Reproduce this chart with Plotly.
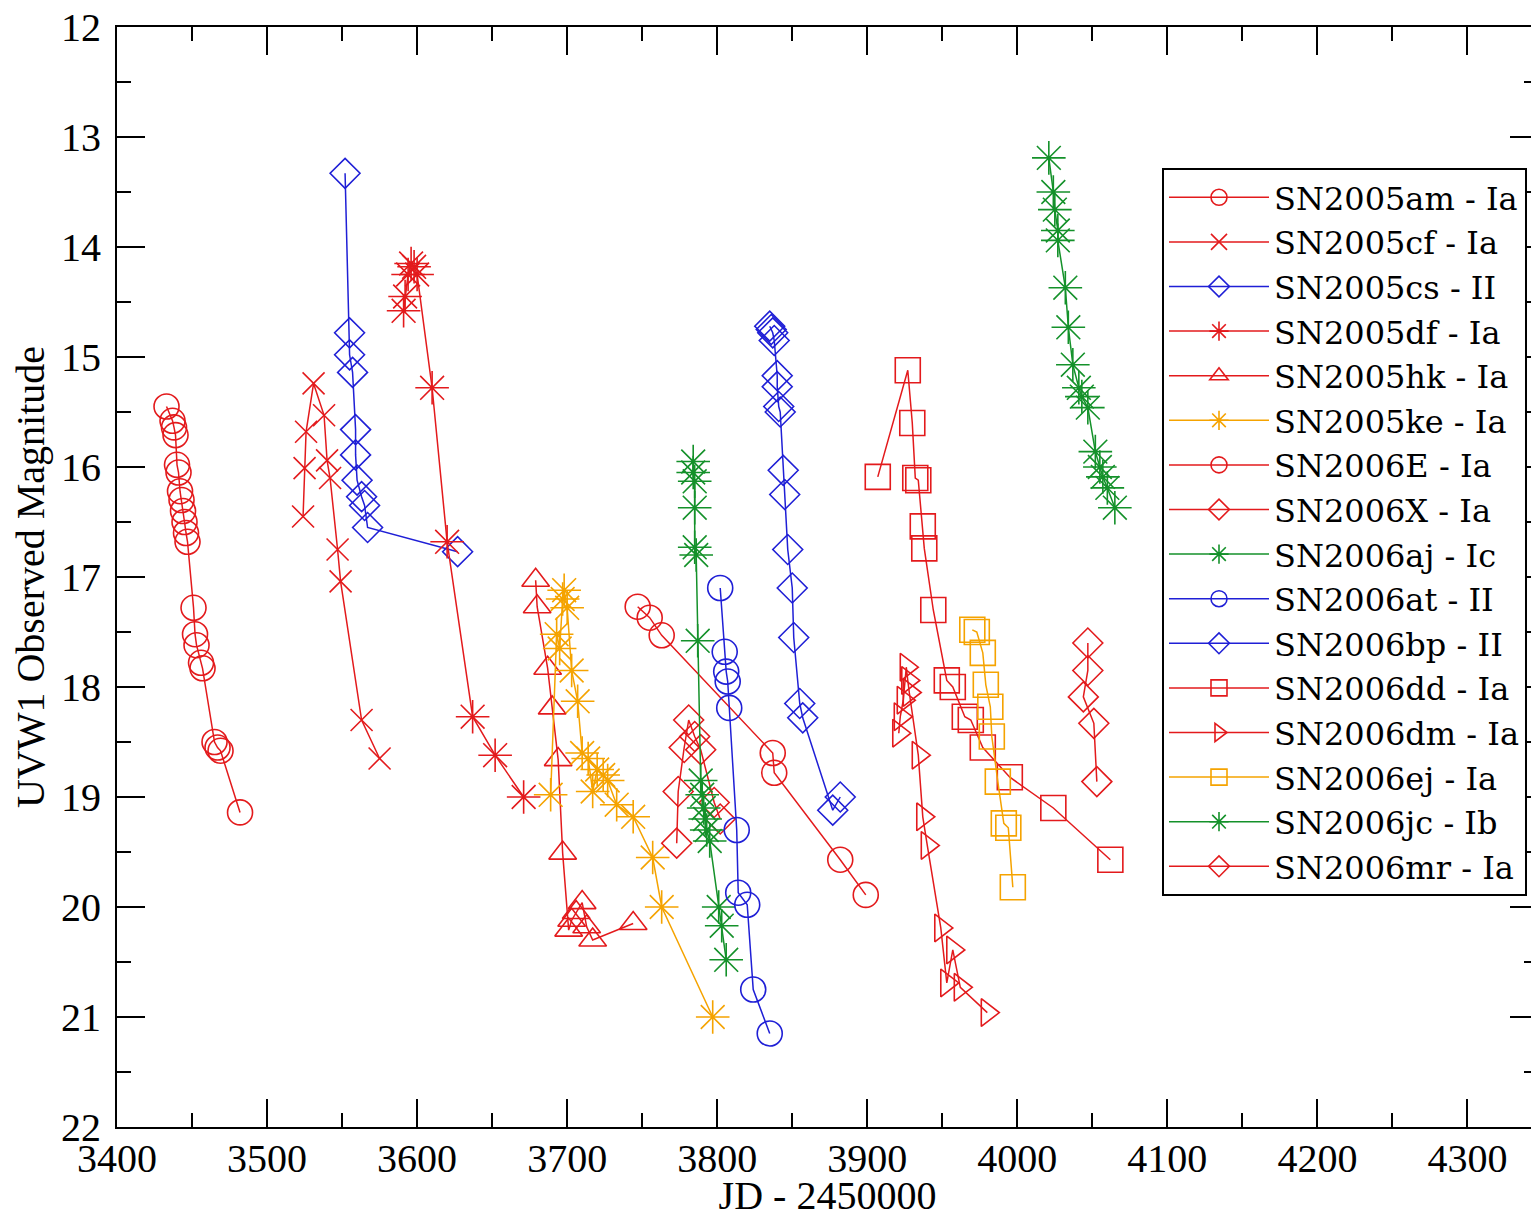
import plotly.graph_objects as go

# ---------------- data ----------------
sn2005am_x = [3433, 3437, 3438, 3439, 3440, 3441, 3442, 3443, 3444, 3445, 3446, 3447,
              3451, 3452, 3453, 3456, 3457, 3465, 3467, 3469, 3482]
sn2005am_y = [15.45, 15.58, 15.64, 15.71, 15.98, 16.05, 16.22, 16.30, 16.40, 16.50, 16.60, 16.68,
              17.28, 17.52, 17.62, 17.78, 17.83, 18.50, 18.55, 18.58, 19.14]

sn2005cf_x = [3524, 3525, 3526, 3531, 3538, 3540, 3542, 3547, 3549, 3563, 3575]
sn2005cf_y = [16.45, 16.01, 15.68, 15.24, 15.53, 15.94, 16.10, 16.75, 17.04, 18.30, 18.65]

sn2005cs_x = [3552, 3555, 3555, 3557, 3559, 3559, 3560, 3563, 3565, 3567, 3627]
sn2005cs_y = [13.33, 14.78, 14.98, 15.14, 15.66, 15.89, 16.12, 16.27, 16.35, 16.55, 16.77]

sn2005df_x = [3591, 3592, 3594, 3596, 3598, 3600, 3610, 3620, 3637, 3652, 3671]
sn2005df_y = [14.58, 14.45, 14.25, 14.15, 14.18, 14.25, 15.28, 16.68, 18.27, 18.62, 19.00]

sn2005hk_x = [3679, 3680, 3687, 3690, 3694, 3697, 3701, 3703, 3706, 3710, 3713, 3717, 3744]
sn2005hk_y = [17.03, 17.27, 17.83, 18.19, 18.66, 19.51, 20.21, 20.12, 20.05, 19.96, 20.18, 20.30, 20.15]

sn2005ke_x = [3689, 3693, 3695, 3697, 3698, 3700, 3703, 3707, 3710, 3714, 3717, 3720,
              3724, 3727, 3733, 3744, 3757, 3763, 3797]
sn2005ke_y = [18.98, 17.52, 17.65, 17.20, 17.12, 17.28, 17.85, 18.13, 18.60, 18.65, 18.95, 18.75,
              18.80, 18.85, 19.07, 19.18, 19.55, 20.00, 21.00]

sn2006E_x = [3747, 3755, 3763, 3837, 3838, 3882, 3899]
sn2006E_y = [17.27, 17.37, 17.53, 18.60, 18.78, 19.57, 19.89]

sn2006X_x = [3773, 3774, 3778, 3781, 3785, 3789, 3798, 3802]
sn2006X_y = [19.42, 18.95, 18.55, 18.30, 18.45, 18.57, 19.05, 19.20]

sn2006aj_x = [3784, 3784, 3785, 3785, 3785, 3786, 3787, 3789, 3790, 3791, 3792, 3793,
              3795, 3801, 3803, 3806]
sn2006aj_y = [15.95, 16.05, 16.13, 16.37, 16.73, 16.80, 17.58, 18.85, 18.98, 19.10, 19.20, 19.30,
              19.40, 20.00, 20.17, 20.48]

sn2006at_x = [3802, 3805, 3806, 3807, 3808, 3813, 3814, 3820, 3824, 3835]
sn2006at_y = [17.10, 17.68, 17.86, 17.95, 18.19, 19.30, 19.87, 19.98, 20.75, 21.15]

sn2006bp_x = [3835, 3836, 3837, 3838, 3840, 3840, 3841, 3842, 3844, 3845, 3847, 3850,
              3851, 3855, 3857, 3877, 3882]
sn2006bp_y = [14.72, 14.75, 14.78, 14.85, 15.17, 15.27, 15.45, 15.50, 16.03, 16.25, 16.75, 17.10,
              17.55, 18.15, 18.28, 19.12, 19.00]

sn2006dd_x = [3907, 3927, 3930, 3932, 3934, 3937, 3938, 3944, 3953, 3957, 3965, 3969,
              3977, 3995, 4024, 4062]
sn2006dd_y = [16.09, 15.12, 15.60, 16.10, 16.12, 16.54, 16.74, 17.30, 17.94, 18.00, 18.27, 18.30,
              18.55, 18.82, 19.10, 19.57]

sn2006dm_x = [3921, 3922, 3924, 3926, 3927, 3928, 3934, 3937, 3940, 3949, 3953, 3957, 3962, 3980]
sn2006dm_y = [18.42, 18.27, 18.12, 17.82, 17.94, 18.05, 18.62, 19.18, 19.44, 20.19, 20.69, 20.39,
              20.73, 20.96]

sn2006ej_x = [3970, 3973, 3977, 3979, 3982, 3983, 3987, 3991, 3994, 3997]
sn2006ej_y = [17.48, 17.50, 17.69, 17.98, 18.18, 18.45, 18.86, 19.24, 19.28, 19.82]

sn2006jc_x = [4021, 4024, 4025, 4027, 4027, 4032, 4034, 4037, 4041, 4043, 4047, 4052,
              4055, 4057, 4060, 4065]
sn2006jc_y = [13.19, 13.50, 13.66, 13.85, 13.94, 14.37, 14.73, 15.07, 15.28, 15.36, 15.46, 15.86,
              16.00, 16.09, 16.19, 16.37]

sn2006mr_x = [4047, 4047, 4044, 4051, 4053]
sn2006mr_y = [17.60, 17.85, 18.09, 18.33, 18.86]

names = ["SN2005am - Ia", "SN2005cf - Ia", "SN2005cs - II", "SN2005df - Ia", "SN2005hk - Ia",
         "SN2005ke - Ia", "SN2006E - Ia", "SN2006X - Ia", "SN2006aj - Ic", "SN2006at - II",
         "SN2006bp - II", "SN2006dd - Ia", "SN2006dm - Ia", "SN2006ej - Ia", "SN2006jc - Ib",
         "SN2006mr - Ia"]

xs = [sn2005am_x, sn2005cf_x, sn2005cs_x, sn2005df_x, sn2005hk_x, sn2005ke_x, sn2006E_x,
      sn2006X_x, sn2006aj_x, sn2006at_x, sn2006bp_x, sn2006dd_x, sn2006dm_x, sn2006ej_x,
      sn2006jc_x, sn2006mr_x]
ys = [sn2005am_y, sn2005cf_y, sn2005cs_y, sn2005df_y, sn2005hk_y, sn2005ke_y, sn2006E_y,
      sn2006X_y, sn2006aj_y, sn2006at_y, sn2006bp_y, sn2006dd_y, sn2006dm_y, sn2006ej_y,
      sn2006jc_y, sn2006mr_y]

# ---------------- styles ----------------
RED = "#e31a1c"
BLUE = "#1f1fd6"
GREEN = "#14912a"
ORANGE = "#f5a300"

colors = [RED, RED, BLUE, RED, RED, ORANGE, RED, RED, GREEN, BLUE, BLUE, RED, RED, ORANGE, GREEN, RED]
symbols = ["circle-open", "x-thin-open", "diamond-open", "asterisk-open", "triangle-up-open",
           "asterisk-open", "circle-open", "diamond-open", "asterisk-open", "circle-open",
           "diamond-open", "square-open", "triangle-right-open", "square-open", "asterisk-open",
           "diamond-open"]
sizes = {"circle-open": 25, "x-thin-open": 22, "diamond-open": 23, "asterisk-open": 28,
         "triangle-up-open": 24, "square-open": 25, "triangle-right-open": 24}

fig = go.Figure()
for name, x, y, c, s in zip(names, xs, ys, colors, symbols):
    fig.add_trace(go.Scatter(
        x=x, y=y, name=name, mode="lines+markers",
        line=dict(color=c, width=1.5),
        marker=dict(symbol=s, size=sizes[s], color=c, line=dict(color=c, width=1.6)),
    ))

FONT = "Liberation Serif"
# page body has an 8px default margin; compensate so the plot lands where the reference has it
W, H = 1531, 1210
L, R, T, B = 109, 1, 19, 91

axis_common = dict(
    showline=True, linecolor="black", linewidth=2, mirror="ticks",
    ticks="inside", ticklen=28, tickwidth=2, tickcolor="black",
    showgrid=False, zeroline=False, automargin=False,
    tickfont=dict(family=FONT, size=40, color="black"),
    ticklabeloverflow="allow",
)

fig.update_layout(
    width=W, height=H,
    margin=dict(l=L, r=R, t=T, b=B),
    paper_bgcolor="white", plot_bgcolor="white",
    font=dict(family=FONT, color="black"),
    xaxis=dict(range=[3400, 4347], dtick=100, tick0=3400,
               minor=dict(dtick=50, ticks="inside", ticklen=14, tickwidth=2, tickcolor="black"),
               title=dict(text="JD - 2450000", font=dict(family=FONT, size=40), standoff=4),
               ticklabelstandoff=-5,
               **axis_common),
    yaxis=dict(range=[22, 12], dtick=1, tick0=12,
               minor=dict(dtick=0.5, ticks="inside", ticklen=14, tickwidth=2, tickcolor="black"),
               title=dict(text="UVW1 Observed Magnitude", font=dict(family=FONT, size=40), standoff=16),
               ticklabelstandoff=6,
               **axis_common),
    legend=dict(
        x=(1162 - 117) / 1421, xanchor="left", y=1 - (168 - 27) / 1100, yanchor="top",
        bgcolor="white", bordercolor="black", borderwidth=2,
        font=dict(family="DejaVu Serif", size=32, color="black"),
        itemwidth=100, tracegroupgap=0,
    ),
    showlegend=True,
)

fig.write_html("out.html")
